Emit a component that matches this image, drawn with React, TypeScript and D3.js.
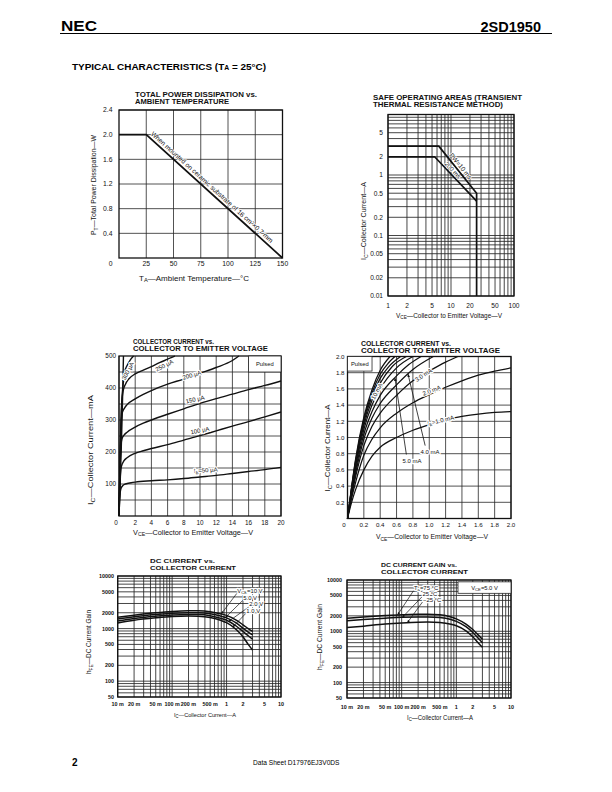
import React from "react";
import * as d3 from "d3";

type Pt = [number, number];

const FONT = "'Liberation Sans', Arial, Helvetica, sans-serif";
const INK = "#111";
const GRIDC = "#262626";

/* ---------------- Chart 1: total power dissipation ---------------- */
const pdTemp = [0, 25, 150];
const pdPower = [2.0, 2.0, 0];
const pdTempTicks = [25, 50, 75, 100, 125, 150];
const pdPowerTicks = [0.4, 0.8, 1.2, 1.6, 2.0, 2.4];

/* ---------------- Chart 2: safe operating area ---------------- */
const soaVTicks = [1, 2, 5, 10, 20, 50, 100];
const soaITicks = [0.01, 0.02, 0.05, 0.1, 0.2, 0.5, 1, 2, 5];
const soaPw10V = [1, 6.4, 25.5, 25.5];
const soaPw10I = [3, 3, 0.5, 0.01];
const soaPw200V = [1, 5.5, 25.5];
const soaPw200I = [2, 2, 0.37];

/* ---------------- Chart 3: IC (mA) vs VCE (V) ---------------- */
const ceVTicks = [0, 2, 4, 6, 8, 10, 12, 14, 16, 18, 20];
const ceITicks = [100, 200, 300, 400, 500];
const ceIb50: Pt[] = [[0, 0], [0.1, 60], [0.2, 82], [0.4, 93], [0.8, 100], [1.5, 104], [2, 106], [4, 110], [6, 113], [8, 117], [10, 122], [12, 127], [14, 133], [16, 139], [18, 145], [20, 152]];
const ceIb100: Pt[] = [[0, 0], [0.15, 120], [0.3, 155], [0.6, 172], [1, 182], [2, 196], [3, 204], [4, 211], [6, 223], [8, 237], [10, 251], [12, 266], [14, 281], [16, 295], [18, 310], [20, 325]];
const ceIb150: Pt[] = [[0, 0], [0.2, 200], [0.35, 240], [0.6, 252], [1, 262], [2, 278], [3, 290], [4, 300], [6, 318], [8, 335], [10, 352], [12, 367], [14, 381], [16, 395], [18, 408], [20, 422]];
const ceIb200: Pt[] = [[0, 0], [0.25, 280], [0.4, 322], [0.7, 338], [1, 348], [2, 366], [3, 380], [4, 392], [6, 412], [8, 428], [10, 446], [12, 464], [14, 486], [14.8, 500]];
const ceIb250: Pt[] = [[0, 0], [0.3, 340], [0.5, 390], [0.8, 412], [1.2, 428], [2, 444], [3, 456], [4, 467], [5, 479], [6, 490], [6.9, 500]];
const ceIb300: Pt[] = [[0, 0], [0.4, 380], [0.55, 420], [0.7, 450], [1, 470], [1.4, 488], [1.8, 500]];
const ceIb350: Pt[] = [[0, 0], [0.45, 380], [0.5, 440], [0.55, 500]];
const ceCurves = [ceIb50, ceIb100, ceIb150, ceIb200, ceIb250, ceIb300, ceIb350];
const ceLabels = [
  { t: "300 µA", v: 1.1, i: 453, r: -62 },
  { t: "250 µA", v: 5.6, i: 470, r: -27 },
  { t: "200 µA", v: 9.0, i: 440, r: -16 },
  { t: "150 µA", v: 9.4, i: 364, r: -13 },
  { t: "100 µA", v: 10.0, i: 267, r: -11 },
];

/* ---------------- Chart 4: IC (A) vs VCE (V) ---------------- */
const satTicks = [0.2, 0.4, 0.6, 0.8, 1.0, 1.2, 1.4, 1.6, 1.8, 2.0];
const satIb1: Pt[] = [[0, 0], [0.05, 0.2], [0.1, 0.36], [0.2, 0.6], [0.3, 0.77], [0.4, 0.88], [0.6, 1.0], [0.8, 1.09], [1.0, 1.16], [1.2, 1.22], [1.4, 1.26], [1.6, 1.29], [1.8, 1.31], [2.0, 1.32]];
const satIb2: Pt[] = [[0, 0], [0.05, 0.25], [0.1, 0.45], [0.2, 0.78], [0.3, 0.98], [0.4, 1.12], [0.6, 1.3], [0.8, 1.43], [1.0, 1.53], [1.2, 1.62], [1.4, 1.7], [1.6, 1.77], [1.8, 1.82], [2.0, 1.86]];
const satIb3: Pt[] = [[0, 0], [0.05, 0.28], [0.1, 0.52], [0.2, 0.9], [0.3, 1.14], [0.4, 1.3], [0.6, 1.52], [0.8, 1.7], [1.0, 1.82], [1.2, 1.93], [1.35, 2.0]];
const satIb4: Pt[] = [[0, 0], [0.05, 0.3], [0.1, 0.56], [0.2, 0.98], [0.3, 1.24], [0.4, 1.42], [0.6, 1.65], [0.8, 1.84], [1.05, 2.0]];
const satIb5: Pt[] = [[0, 0], [0.05, 0.32], [0.1, 0.6], [0.2, 1.04], [0.3, 1.32], [0.4, 1.52], [0.6, 1.76], [0.75, 1.9], [0.9, 2.0]];
const satIb6: Pt[] = [[0, 0], [0.05, 0.34], [0.1, 0.64], [0.2, 1.1], [0.3, 1.4], [0.4, 1.6], [0.6, 1.86], [0.8, 2.0]];
const satIb7: Pt[] = [[0, 0], [0.05, 0.36], [0.1, 0.67], [0.2, 1.15], [0.3, 1.46], [0.4, 1.67], [0.55, 1.88], [0.72, 2.0]];
const satIb8: Pt[] = [[0, 0], [0.05, 0.37], [0.1, 0.7], [0.2, 1.19], [0.3, 1.51], [0.4, 1.73], [0.5, 1.87], [0.65, 2.0]];
const satIb9: Pt[] = [[0, 0], [0.05, 0.38], [0.1, 0.72], [0.2, 1.22], [0.3, 1.55], [0.4, 1.78], [0.5, 1.92], [0.58, 2.0]];
const satIb10: Pt[] = [[0, 0], [0.05, 0.39], [0.1, 0.74], [0.2, 1.25], [0.3, 1.59], [0.4, 1.83], [0.52, 2.0]];
const satCurves = [satIb1, satIb2, satIb3, satIb4, satIb5, satIb6, satIb7, satIb8, satIb9, satIb10];
const satLabels = [
  { t: "10 mA", v: 0.36, i: 1.57, r: -62 },
  { t: "3.0 mA", v: 0.93, i: 1.77, r: -33 },
  { t: "2.0 mA", v: 1.03, i: 1.58, r: -20 },
];

/* ---------------- Chart 5: hFE vs IC, VCE family ---------------- */
const gainITicks = [0.01, 0.02, 0.05, 0.1, 0.2, 0.5, 1, 2, 5, 10];
const gainITickText = ["10 m", "20 m", "50 m", "100 m", "200 m", "500 m", "1", "2", "5", "10"];
const gainHTicks = [50, 100, 200, 500, 1000, 2000, 5000, 10000];
const hfeV10: Pt[] = [[0.01, 1650], [0.02, 1800], [0.05, 2000], [0.1, 2120], [0.2, 2180], [0.3, 2180], [0.5, 2100], [0.8, 1900], [1, 1780], [1.5, 1450], [2, 1180], [2.5, 1000], [3, 880]];
const hfeV5: Pt[] = [[0.01, 1520], [0.02, 1680], [0.05, 1850], [0.1, 1960], [0.2, 2000], [0.3, 2000], [0.5, 1920], [0.8, 1720], [1, 1600], [1.5, 1280], [2, 1020], [2.5, 860], [3, 760]];
const hfeV2: Pt[] = [[0.01, 1400], [0.02, 1560], [0.05, 1720], [0.1, 1820], [0.2, 1860], [0.3, 1850], [0.5, 1760], [0.8, 1560], [1, 1440], [1.5, 1120], [2, 880], [2.5, 730], [3, 630]];
const hfeV1: Pt[] = [[0.01, 1280], [0.02, 1440], [0.05, 1600], [0.1, 1700], [0.2, 1740], [0.3, 1720], [0.5, 1620], [0.8, 1420], [1, 1300], [1.5, 960], [2, 700], [2.5, 500], [3, 390]];
const hfeVceCurves = [hfeV10, hfeV5, hfeV2, hfeV1];
const hfeVceNames = ["10 V", "5.0 V", "2.0 V", "1.0 V"];
const hfeVceLabelX = [1.57, 2.03, 2.62, 2.31];
const hfeVceLabelY = [4750, 3510, 2640, 1990];
const hfeVceArrowX = [0.8, 0.95, 1.09, 1.3];

/* ---------------- Chart 6: hFE vs IC, temperature family ---------------- */
const hfeT75: Pt[] = [[0.01, 1800], [0.02, 1900], [0.05, 2020], [0.1, 2100], [0.2, 2150], [0.3, 2150], [0.5, 2100], [0.8, 1900], [1, 1750], [1.5, 1380], [2, 1080], [2.5, 850], [3, 700]];
const hfeT25: Pt[] = [[0.01, 1600], [0.02, 1690], [0.05, 1800], [0.1, 1870], [0.2, 1900], [0.3, 1900], [0.5, 1860], [0.8, 1700], [1, 1560], [1.5, 1230], [2, 950], [2.5, 740], [3, 600]];
const hfeTm25: Pt[] = [[0.01, 1180], [0.02, 1260], [0.05, 1380], [0.1, 1450], [0.2, 1500], [0.3, 1510], [0.5, 1480], [0.8, 1370], [1, 1280], [1.5, 1020], [2, 780], [2.5, 600], [3, 490]];
const hfeTempCurves = [hfeT75, hfeT25, hfeTm25];
const hfeTempLabelX = [0.168, 0.24, 0.245];
const hfeTempLabelY = [6300, 4800, 3800];
const hfeTempArrowX = [0.084, 0.103, 0.127];

/* ---------------- helpers ---------------- */
const halo: React.CSSProperties = { paintOrder: "stroke", stroke: "#fff", strokeWidth: 2.4, strokeLinejoin: "round" } as any;
const thinHalo: React.CSSProperties = { paintOrder: "stroke", stroke: "#fff", strokeWidth: 1.4, strokeLinejoin: "round" } as any;

function pathOf(pts: Pt[], x: any, y: any, curve: any = d3.curveMonotoneX) {
  return d3.line<Pt>().x((d) => x(d[0])).y((d) => y(d[1])).curve(curve)(pts) || "";
}

function yOnCurve(pts: Pt[], xv: number, x: any, y: any) {
  const px = x(xv);
  for (let k = 0; k < pts.length - 1; k++) {
    const a = x(pts[k][0]), b = x(pts[k + 1][0]);
    if (px >= a && px <= b && b > a) {
      const t = (px - a) / (b - a);
      return y(pts[k][1]) + t * (y(pts[k + 1][1]) - y(pts[k][1]));
    }
  }
  return y(pts[pts.length - 1][1]);
}

function Grid({ xs, ys, x, y, w = 0.8 }: any) {
  const [xa, xb] = x.range();
  const [ya, yb] = y.range();
  return (
    <g stroke={GRIDC} strokeWidth={w} fill="none">
      {xs.map((v: number, k: number) => (
        <line key={"x" + k} x1={x(v)} x2={x(v)} y1={ya} y2={yb} />
      ))}
      {ys.map((v: number, k: number) => (
        <line key={"y" + k} x1={xa} x2={xb} y1={y(v)} y2={y(v)} />
      ))}
    </g>
  );
}

function Frame({ x, y }: any) {
  const [xa, xb] = x.range();
  const [ya, yb] = y.range();
  return <rect x={xa} y={yb} width={xb - xa} height={ya - yb} fill="none" stroke={INK} strokeWidth={1.3} />;
}

function Title({ x, y, lines, lens, size = 6.6 }: any) {
  return (
    <g fontFamily={FONT} fontWeight="bold" fontSize={size} fill={INK}>
      {lines.map((s: string, k: number) => (
        <text key={k} x={x} y={y + k * (size + 1.2)} textLength={lens[k]} lengthAdjust="spacingAndGlyphs">
          {s}
        </text>
      ))}
    </g>
  );
}

function SubText({ x, y, main, sub, rest, size = 7, rot = 0, len }: any) {
  return (
    <text
      transform={`translate(${x},${y}) rotate(${rot})`}
      textAnchor="middle"
      fontFamily={FONT}
      fontSize={size}
      fill={INK}
      textLength={len}
      lengthAdjust="spacingAndGlyphs"
    >
      {main}
      <tspan fontSize={size * 0.72} dy={1.6}>
        {sub}
      </tspan>
      <tspan dy={-1.6}>{rest}</tspan>
    </text>
  );
}

export default function App() {
  /* scales */
  const x1 = d3.scaleLinear().domain([0, 150]).range([119, 282.5]);
  const y1 = d3.scaleLinear().domain([0, 2.4]).range([258, 110]);

  const x2 = d3.scaleLog().domain([1, 100]).range([388, 514]);
  const y2 = d3.scaleLog().domain([0.01, 10]).range([296, 114.5]);

  const x3 = d3.scaleLinear().domain([0, 20]).range([119, 281]);
  const y3 = d3.scaleLinear().domain([0, 500]).range([516, 356]);

  const x4 = d3.scaleLinear().domain([0, 2]).range([347.5, 511]);
  const y4 = d3.scaleLinear().domain([0, 2]).range([518.5, 356.5]);

  const x5 = d3.scaleLog().domain([0.01, 10]).range([117.7, 281]);
  const y5 = d3.scaleLog().domain([50, 10000]).range([697, 576]);

  const x6 = d3.scaleLog().domain([0.01, 10]).range([347, 511]);
  const y6 = d3.scaleLog().domain([50, 10000]).range([698, 580]);

  const pdPts: Pt[] = pdTemp.map((t, k) => [t, pdPower[k]]);
  const pw10: Pt[] = soaPw10V.map((v, k) => [v, soaPw10I[k]]);
  const pw200: Pt[] = soaPw200V.map((v, k) => [v, soaPw200I[k]]);

  const ang1 = (Math.atan2(y1(0) - y1(2), x1(150) - x1(25)) * 180) / Math.PI;
  const ang2 = (Math.atan2(y2(0.5) - y2(3), x2(25.5) - x2(6.4)) * 180) / Math.PI;
  const ang2b = (Math.atan2(y2(0.37) - y2(2), x2(25.5) - x2(5.5)) * 180) / Math.PI;

  const tick = { fontFamily: FONT, fill: INK } as any;

  return (
    <svg width={612} height={792} style={{ position: "absolute", left: 0, top: 0, background: "#fff" }}>
      <defs>
        <marker id="arr" viewBox="0 0 6 6" refX="5.6" refY="3" markerWidth="4.2" markerHeight="4.2" orient="auto">
          <path d="M0,0.6 L6,3 L0,5.4 z" fill={INK} />
        </marker>
      </defs>
      <rect width={612} height={792} fill="#fff" />

      {/* header */}
      <text x={61} y={31} fontFamily={FONT} fontWeight="bold" fontSize={15} fill="#000" textLength={36} lengthAdjust="spacingAndGlyphs">
        NEC
      </text>
      <text x={541} y={31.5} textAnchor="end" fontFamily={FONT} fontWeight="bold" fontSize={14.5} fill="#000">
        2SD1950
      </text>
      <line x1={60} x2={552} y1={33.5} y2={33.5} stroke="#000" strokeWidth={1} />
      <text x={72} y={69.5} fontFamily={FONT} fontWeight="bold" fontSize={9.6} fill="#000" textLength={194} lengthAdjust="spacingAndGlyphs">
        TYPICAL CHARACTERISTICS (T<tspan fontSize={6.6}>A</tspan> = 25°C)
      </text>

      {/* footer */}
      <text x={72} y={765.5} fontFamily={FONT} fontWeight="bold" fontSize={10} fill="#000">
        2
      </text>
      <text x={253} y={765} fontFamily={FONT} fontSize={6.6} fill="#000">
        Data Sheet  D17976EJ3V0DS
      </text>

      {/* ================= Chart 1 ================= */}
      <Title x={135} y={96.5} lines={["TOTAL POWER DISSIPATION vs.", "AMBIENT TEMPERATURE"]} lens={[122, 94]} />
      <Grid xs={pdTempTicks} ys={pdPowerTicks} x={x1} y={y1} w={0.8} />
      <Frame x={x1} y={y1} />
      <path d={pathOf(pdPts, x1, y1, d3.curveLinear)} fill="none" stroke={INK} strokeWidth={1.7} />
      <text
        transform={`translate(${x1(27)},${yOnCurve(pdPts, 27, x1, y1)}) rotate(${ang1})`}
        y={-3}
        fontFamily={FONT}
        fontSize={6.6}
        fill={INK}
        textLength={162}
        lengthAdjust="spacingAndGlyphs"
        style={thinHalo}
      >
        When mounted on ceramic substrate of 16 cm²×0.7 mm
      </text>
      <g {...tick} fontSize={6.8}>
        {pdPowerTicks.map((v) => (
          <text key={v} x={112.5} y={y1(v) + 2.4} textAnchor="end">
            {d3.format(".1f")(v)}
          </text>
        ))}
        <text x={112.5} y={265.5} textAnchor="end">0</text>
        {pdTempTicks.map((v) => (
          <text key={v} x={x1(v)} y={266} textAnchor="middle">
            {v}
          </text>
        ))}
      </g>
      <SubText x={96} y={185} rot={-90} main="P" sub="T" rest="—Total Power Dissipation—W" len={100} size={7.2} />
      <SubText x={194} y={280.5} main="T" sub="A" rest="—Ambient Temperature—°C" len={110} size={7.6} />

      {/* ================= Chart 2 ================= */}
      <Title x={373} y={99.5} lines={["SAFE OPERATING AREAS (TRANSIENT", "THERMAL RESISTANCE METHOD)"]} lens={[149, 130]} />
      <Grid xs={x2.ticks()} ys={y2.ticks()} x={x2} y={y2} w={0.85} />
      <Frame x={x2} y={y2} />
      <path d={pathOf(pw10, x2, y2, d3.curveLinear)} fill="none" stroke={INK} strokeWidth={1.7} />
      <path d={pathOf(pw200, x2, y2, d3.curveLinear)} fill="none" stroke={INK} strokeWidth={1.7} />
      <text
        transform={`translate(${x2(12.5)},${yOnCurve(pw10, 12.5, x2, y2)}) rotate(${ang2})`}
        y={-2.4}
        textAnchor="middle"
        fontFamily={FONT}
        fontSize={6.4}
        fill={INK}
        style={thinHalo}
      >
        PW=10 ms
      </text>
      <text
        transform={`translate(${x2(9.6)},${yOnCurve(pw200, 9.6, x2, y2)}) rotate(${ang2b})`}
        y={-1.8}
        textAnchor="middle"
        fontFamily={FONT}
        fontSize={6.2}
        fill={INK}
        style={thinHalo}
      >
        200 ms
      </text>
      <g {...tick} fontSize={6.6}>
        {soaITicks.map((v) => (
          <text key={v} x={383} y={y2(v) + 2.3} textAnchor="end">
            {String(v)}
          </text>
        ))}
        {soaVTicks.map((v) => (
          <text key={v} x={x2(v)} y={307.5} textAnchor="middle">
            {String(v)}
          </text>
        ))}
      </g>
      <SubText x={366} y={221} rot={-90} main="I" sub="C" rest="—Collector Current—A" len={78} size={6.9} />
      <SubText x={449} y={317.5} main="V" sub="CE" rest="—Collector to Emitter Voltage—V" len={106} size={6.6} />

      {/* ================= Chart 3 ================= */}
      <Title x={133} y={343.5} lines={["COLLECTOR CURRENT vs.", "COLLECTOR TO EMITTER VOLTAGE"]} lens={[81, 135]} />
      <Grid xs={ceVTicks} ys={d3.range(50, 500, 50)} x={x3} y={y3} w={0.8} />
      <Frame x={x3} y={y3} />
      <rect x={x3(16)} y={y3(500)} width={x3(20) - x3(16)} height={y3(450) - y3(500)} fill="#fff" stroke={GRIDC} strokeWidth={0.8} />
      <text x={(x3(16) + x3(20)) / 2} y={y3(475) + 2.2} textAnchor="middle" fontFamily={FONT} fontSize={5.8} fill={INK}>
        Pulsed
      </text>
      <g fill="none" stroke={INK} strokeWidth={1.4}>
        {ceCurves.map((c, k) => (
          <path key={k} d={pathOf(c, x3, y3)} />
        ))}
      </g>
      <g fontFamily={FONT} fontSize={6} fill={INK} style={halo}>
        {ceLabels.map((l) => (
          <text key={l.t} transform={`translate(${x3(l.v)},${y3(l.i)}) rotate(${l.r})`} textAnchor="middle" y={2}>
            {l.t}
          </text>
        ))}
        <text transform={`translate(${x3(10.7)},${y3(143)}) rotate(-4)`} textAnchor="middle" y={2}>
          I<tspan fontSize={4.4} dy={1.2}>B</tspan>
          <tspan dy={-1.2}>=50 µA</tspan>
        </text>
      </g>
      <g {...tick} fontSize={6.4}>
        {ceITicks.map((v) => (
          <text key={v} x={116} y={y3(v) + 2.2} textAnchor="end">
            {v}
          </text>
        ))}
        {ceVTicks.map((v) => (
          <text key={v} x={v === 0 ? x3(v) - 3 : x3(v)} y={524.5} textAnchor="middle">
            {v}
          </text>
        ))}
      </g>
      <SubText x={93} y={450} rot={-90} main="I" sub="C" rest="—Collector Current—mA" len={110} size={7.6} />
      <SubText x={193} y={534.5} main="V" sub="CE" rest="—Collector to Emitter Voltage—V" len={120} size={7.2} />

      {/* ================= Chart 4 ================= */}
      <Title x={361} y={345.5} lines={["COLLECTOR CURRENT vs.", "COLLECTOR  TO EMITTER VOLTAGE"]} lens={[90, 139]} />
      <Grid xs={satTicks} ys={satTicks} x={x4} y={y4} w={0.8} />
      <Frame x={x4} y={y4} />
      <rect x={x4(0)} y={y4(2)} width={x4(0.3) - x4(0)} height={y4(1.82) - y4(2)} fill="#fff" stroke={GRIDC} strokeWidth={0.8} />
      <text x={x4(0.15)} y={y4(1.91) + 2.1} textAnchor="middle" fontFamily={FONT} fontSize={5.8} fill={INK}>
        Pulsed
      </text>
      <g fill="none" stroke={INK} strokeWidth={1.25}>
        {satCurves.map((c, k) => (
          <path key={k} d={pathOf(c, x4, y4)} />
        ))}
      </g>
      <g fontFamily={FONT} fontSize={6} fill={INK} style={halo}>
        {satLabels.map((l) => (
          <text key={l.t} transform={`translate(${x4(l.v)},${y4(l.i)}) rotate(${l.r})`} textAnchor="middle" y={2}>
            {l.t}
          </text>
        ))}
        <text transform={`translate(${x4(1.14)},${y4(1.21)}) rotate(-13)`} textAnchor="middle" y={2}>
          I<tspan fontSize={4.4} dy={1.2}>B</tspan>
          <tspan dy={-1.2}>=1.0 mA</tspan>
        </text>
        <text x={x4(1.01)} y={y4(0.8)} textAnchor="middle">4.0 mA</text>
        <text x={x4(0.79)} y={y4(0.69)} textAnchor="middle">5.0 mA</text>
      </g>
      <g stroke={INK} strokeWidth={0.8} fill="none">
        <line x1={x4(0.95)} y1={y4(0.9)} x2={x4(0.74)} y2={yOnCurve(satIb4, 0.74, x4, y4)} markerEnd="url(#arr)" />
        <line x1={x4(0.72)} y1={y4(0.79)} x2={x4(0.58)} y2={yOnCurve(satIb5, 0.58, x4, y4)} markerEnd="url(#arr)" />
      </g>
      <g {...tick} fontSize={6.2}>
        {satTicks.map((v) => (
          <text key={v} x={344.5} y={y4(v) + 2.2} textAnchor="end">
            {d3.format(".1f")(v)}
          </text>
        ))}
        <text x={344} y={527} textAnchor="middle">0</text>
        {satTicks.map((v) => (
          <text key={"x" + v} x={x4(v)} y={527} textAnchor="middle">
            {d3.format(".1f")(v)}
          </text>
        ))}
      </g>
      <SubText x={330} y={448} rot={-90} main="I" sub="C" rest="—Collector Current—A" len={87} size={7.2} />
      <SubText x={432} y={539} main="V" sub="CE" rest="—Collector to Emitter Voltage—V" len={112} size={6.9} />

      {/* ================= Chart 5 ================= */}
      <Title x={150} y={563} lines={["DC CURRENT vs.", "COLLECTOR CURRENT"]} lens={[65, 86]} size={6.2} />
      <Grid xs={x5.ticks()} ys={y5.ticks()} x={x5} y={y5} w={0.85} />
      <Frame x={x5} y={y5} />
      <g fill="none" stroke={INK} strokeWidth={1.5}>
        {hfeVceCurves.map((c, k) => (
          <path key={k} d={pathOf(c, x5, y5)} />
        ))}
      </g>
      <g stroke={INK} strokeWidth={0.7} fill="none">
        {hfeVceCurves.map((c, k) => (
          <line
            key={k}
            x1={x5(hfeVceLabelX[k]) - 0.5}
            y1={y5(hfeVceLabelY[k]) + 0.5}
            x2={x5(hfeVceArrowX[k])}
            y2={yOnCurve(c, hfeVceArrowX[k], x5, y5)}
            markerEnd="url(#arr)"
          />
        ))}
      </g>
      <g fontFamily={FONT} fontSize={5.9} fill={INK} style={halo}>
        {hfeVceNames.map((n, k) => (
          <text key={n} x={x5(hfeVceLabelX[k])} y={y5(hfeVceLabelY[k])}>
            {k === 0 ? (
              <>
                V<tspan fontSize={4.2} dy={1.2}>CE</tspan>
                <tspan dy={-1.2}>{"=" + n}</tspan>
              </>
            ) : (
              n
            )}
          </text>
        ))}
      </g>
      <g {...tick} fontSize={5.4} fontWeight="bold">
        {gainHTicks.map((v) => (
          <text key={v} x={114} y={y5(v) + 2} textAnchor="end">
            {v}
          </text>
        ))}
        {gainITicks.map((v, k) => (
          <text key={v} x={x5(v)} y={706} textAnchor="middle">
            {gainITickText[k]}
          </text>
        ))}
      </g>
      <SubText x={91} y={642} rot={-90} main="h" sub="FE" rest="—DC Current Gain" len={64} size={6.6} />
      <SubText x={205} y={716.5} main="I" sub="C" rest="—Collector Current—A" len={62} size={6.2} />

      {/* ================= Chart 6 ================= */}
      <Title x={381} y={567} lines={["DC CURRENT GAIN vs.", "COLLECTOR CURRENT"]} lens={[76, 87]} size={6.2} />
      <Grid xs={x6.ticks()} ys={y6.ticks()} x={x6} y={y6} w={0.85} />
      <Frame x={x6} y={y6} />
      <rect x={458} y={y6(9200)} width={x6(10) - 458} height={y6(5500) - y6(9200)} fill="#fff" stroke={GRIDC} strokeWidth={0.8} />
      <text x={(458 + x6(10)) / 2} y={y6(7100) + 2} textAnchor="middle" fontFamily={FONT} fontSize={5.8} fill={INK}>
        V<tspan fontSize={4.2} dy={1.2}>CE</tspan>
        <tspan dy={-1.2}>=5.0 V</tspan>
      </text>
      <g fill="none" stroke={INK} strokeWidth={1.5}>
        {hfeTempCurves.map((c, k) => (
          <path key={k} d={pathOf(c, x6, y6)} />
        ))}
      </g>
      <g stroke={INK} strokeWidth={0.7} fill="none">
        {hfeTempCurves.map((c, k) => (
          <line
            key={k}
            x1={x6(hfeTempLabelX[k]) - 0.5}
            y1={y6(hfeTempLabelY[k]) + 0.5}
            x2={x6(hfeTempArrowX[k])}
            y2={yOnCurve(c, hfeTempArrowX[k], x6, y6)}
            markerEnd="url(#arr)"
          />
        ))}
      </g>
      <g fontFamily={FONT} fontSize={5.9} fill={INK} style={halo}>
        <text x={x6(hfeTempLabelX[0])} y={y6(hfeTempLabelY[0])}>
          T<tspan fontSize={4.2} dy={1.2}>a</tspan>
          <tspan dy={-1.2}>=75 °C</tspan>
        </text>
        <text x={x6(hfeTempLabelX[1])} y={y6(hfeTempLabelY[1])}>25 °C</text>
        <text x={x6(hfeTempLabelX[2])} y={y6(hfeTempLabelY[2])}>−25 °C</text>
      </g>
      <g {...tick} fontSize={5.4} fontWeight="bold">
        {gainHTicks.map((v) => (
          <text key={v} x={342} y={y6(v) + 2} textAnchor="end">
            {v}
          </text>
        ))}
        {gainITicks.map((v, k) => (
          <text key={v} x={x6(v)} y={709} textAnchor="middle">
            {gainITickText[k]}
          </text>
        ))}
      </g>
      <SubText x={322} y={637} rot={-90} main="h" sub="FE" rest="—DC Current Gain" len={66} size={6.6} />
      <SubText x={440} y={719.5} main="I" sub="C" rest="—Collector Current—A" len={66} size={6.4} />
    </svg>
  );
}
